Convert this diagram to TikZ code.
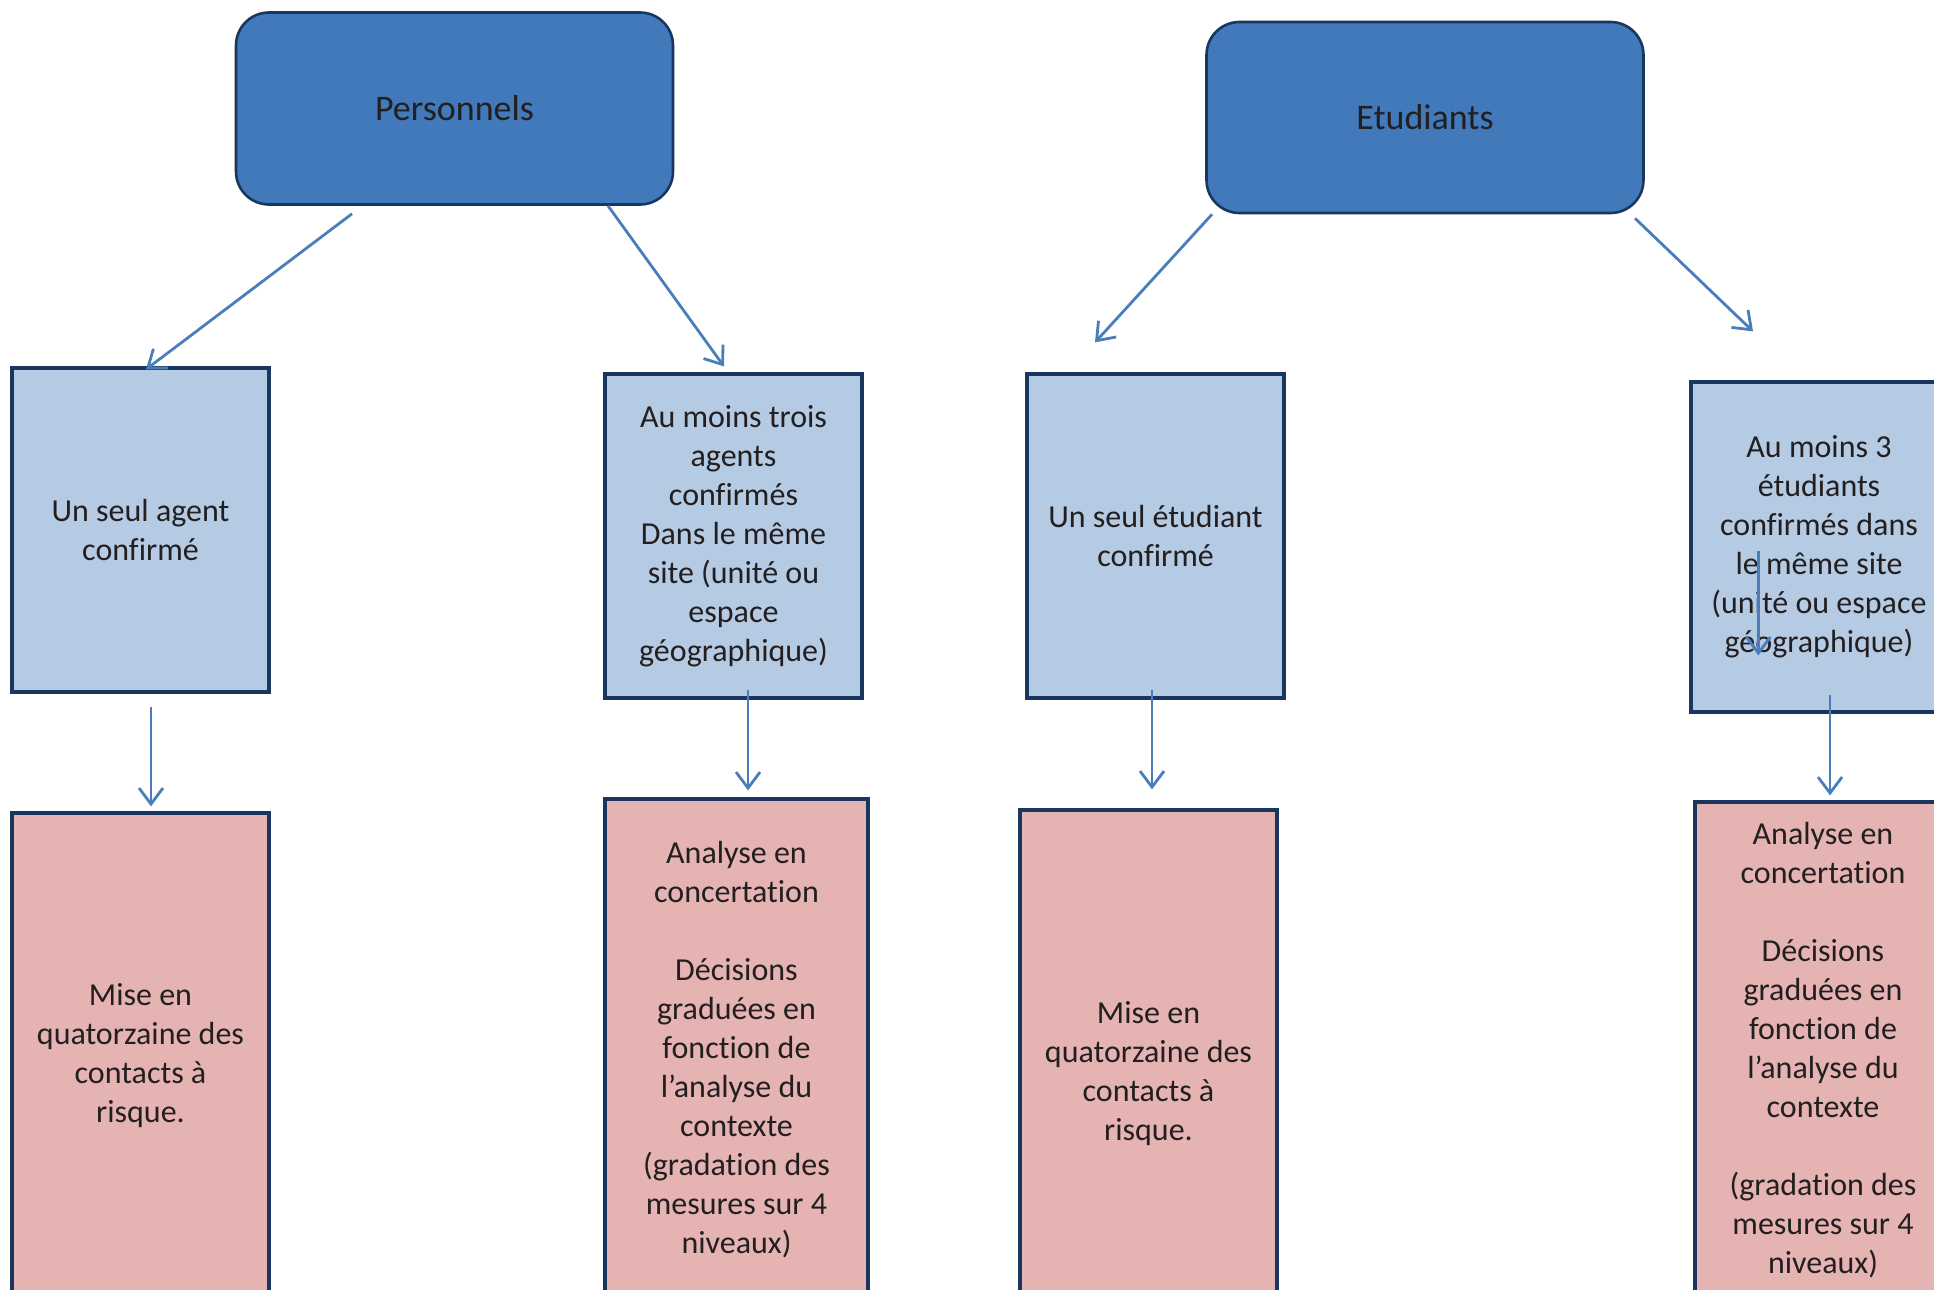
\documentclass[tikz,border=0pt]{standalone}
\usepackage{fontspec}
\setmainfont{Carlito}[Ligatures=NoCommon]
\usetikzlibrary{arrows.meta,calc}
\definecolor{hdrfill}{HTML}{4179BA}
\definecolor{navy}{HTML}{17375E}
\definecolor{bluefill}{HTML}{B5CAE3}
\definecolor{pinkfill}{HTML}{E4B3B2}
\definecolor{arrowblue}{HTML}{4A7EBB}
\definecolor{txt}{HTML}{231F20}
\tikzset{
  hdr/.style={draw=navy, line width=1.3pt, fill=hdrfill, rounded corners=16.5pt,
    minimum width=218.5pt, minimum height=96pt, inner sep=0pt, text=txt,
    font=\fontsize{18}{22}\selectfont},
  bluebox/.style={draw=navy, line width=1.6pt, fill=bluefill, minimum width=128.5pt,
    minimum height=162pt, inner sep=0pt, align=center, text=txt,
    font=\fontsize{16}{19.5}\selectfont},
  pinkbox/.style={draw=navy, line width=1.6pt, fill=pinkfill, minimum width=128.5pt,
    inner sep=0pt, align=center, text=txt,
    font=\fontsize{16}{19.5}\selectfont},
  arr/.style={draw=arrowblue, line width=1.4pt,
    -{Straight Barb[length=8pt,width=12pt,line width=1.4pt]}}
}
\begin{document}
\begin{tikzpicture}[x=0.5pt,y=-0.5pt]
\useasboundingbox (0,0) rectangle (1934,1290);
\begin{scope}
\clip (0,0) rectangle (1934,1290);
% headers
\node[hdr] (h1) at (454.5,108.5) {Personnels};
\node[hdr, minimum height=95.5pt] (h2) at (1425,117.5) {Etudiants};
% blue boxes
\node[bluebox] (b1) at (140.5,530) {Un seul agent\\confirmé};
\node[bluebox] (b2) at (733.5,536) {Au moins trois\\agents\\confirmés\\Dans le même\\site (unité ou\\espace\\géographique)};
\node[bluebox] (b3) at (1155.5,536) {Un seul étudiant\\confirmé};
\node[bluebox, minimum width=128pt, minimum height=165pt] (b4) at (1819,547) {Au moins 3\\étudiants\\confirmés dans\\le même site\\(unité ou espace\\géographique)};
% pink boxes
\node[pinkbox, minimum height=243pt] (p1) at (140.5,1056) {Mise en\\quatorzaine des\\contacts à\\risque.};
\node[pinkbox, minimum width=131.5pt, minimum height=251pt] (p2) at (736.5,1050) {Analyse en\\concertation\\[19.5pt]Décisions\\graduées en\\fonction de\\l’analyse du\\contexte\\(gradation des\\mesures sur 4\\niveaux)};
\node[pinkbox, minimum height=264pt] (p3) at (1148.5,1074) {Mise en\\quatorzaine des\\contacts à\\risque.};
\node[pinkbox, minimum width=128pt, minimum height=248pt] (p4) at (1823,1050) {Analyse en\\concertation\\[19.5pt]Décisions\\graduées en\\fonction de\\l’analyse du\\contexte\\[19.5pt](gradation des\\mesures sur 4\\niveaux)};
% connectors from headers
\draw[arr] ($(h1.south)+(-102.5,8)$) -- ($(b1.north)+(5.5,3)$);
\draw[arr] ($(h1.south)+(153.5,0)$) -- ($(b2.north)+(-9.5,-6)$);
\draw[arr] ($(h2.south)+(-213,0)$) -- ($(b3.north)+(-60.5,-30)$);
\draw[arr] ($(h2.south)+(210,4)$) -- ($(b4.north)+(-66,-49)$);
% down connectors
\draw[arr] ($(b1.south)+(10.5,13)$) -- ($(p1.north)+(10.5,-5)$);
\draw[arr] ($(b2.south)+(14.5,-10)$) -- ($(p2.north)+(11.5,-7)$);
\draw[arr] ($(b3.south)+(-3.5,-10)$) -- ($(p3.north)+(3.5,-19)$);
\draw[arr] ($(b4.south)+(11,-19)$) -- ($(p4.north)+(7,-5)$);
% stray arrow inside b4
\draw[arr] ($(b4.north west)+(69,171)$) -- ($(b4.north west)+(69,275)$);
\end{scope}
\end{tikzpicture}
\end{document}
